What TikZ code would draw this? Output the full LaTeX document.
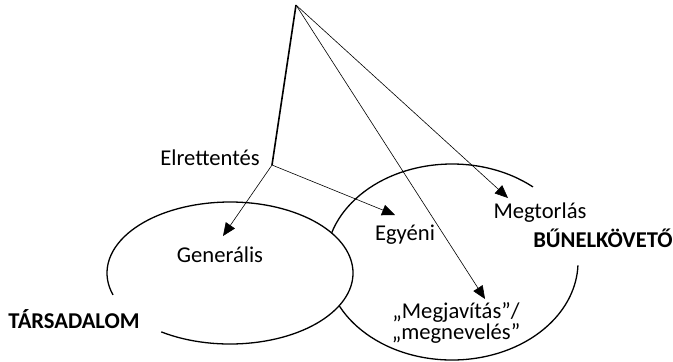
\documentclass[tikz,border=0pt]{standalone}
\usepackage{fontspec}
\setmainfont{Carlito}
\usetikzlibrary{arrows.meta}

\begin{document}
\begin{tikzpicture}[x=0.5pt, y=0.5pt,
                    every node/.style={inner sep=0pt, font=\fontsize{11.3}{9}\selectfont},
                    word node/.style={anchor=base},
                    group node/.style={anchor=base, font=\fontsize{11.3}{9}\selectfont\bfseries},
                    ring/.style={line width=0.65pt},
                    stem/.style={line width=0.8pt},
                    link/.style={line width=0.3pt, -{Triangle[length=6.5pt,width=5.5pt]}}]
  \useasboundingbox (0,0) rectangle (673,361);

  % the two sets
  \draw[ring] (452,99) ++(50:126 and 98)
    arc[start angle=50, end angle=358, x radius=126, y radius=98];
  \fill[white] (230,88) ellipse [x radius=123, y radius=71];
  \draw[ring] (230,88) ++(236:123 and 71)
    arc[start angle=236, end angle=558, x radius=123, y radius=71];

  % labels
  \node[word node] (elrettentes) at (210,196) {Elrettentés};
  \node[word node] (generalis) at (220,99) {Generális};
  \node[word node] (egyeni) at (405,121) {Egyéni};
  \node[word node] (megtorlas) at (540,143) {Megtorlás};
  \node[align=center] (megjavitas) at (456,38) {„Megjavítás”/\\„megnevelés”};
  \node[group node] (tarsadalom) at (74,33) {TÁRSADALOM};
  \node[group node] (bunelkoveto) at (603,114) {BŰNELKÖVETŐ};

  \coordinate (top) at (296,356);
  \coordinate (elr) at (272,196);
  \coordinate (gen tip) at (223,125);
  \coordinate (egy tip) at (395,146);
  \coordinate (megt tip) at (508,163);
  \coordinate (megj tip) at (485,62);

  \path (top) edge[stem] (elr)
              edge[link] (megj tip)
              edge[link] (megt tip)
        (elr) edge[link] (gen tip)
              edge[link] (egy tip);
\end{tikzpicture}
\end{document}
